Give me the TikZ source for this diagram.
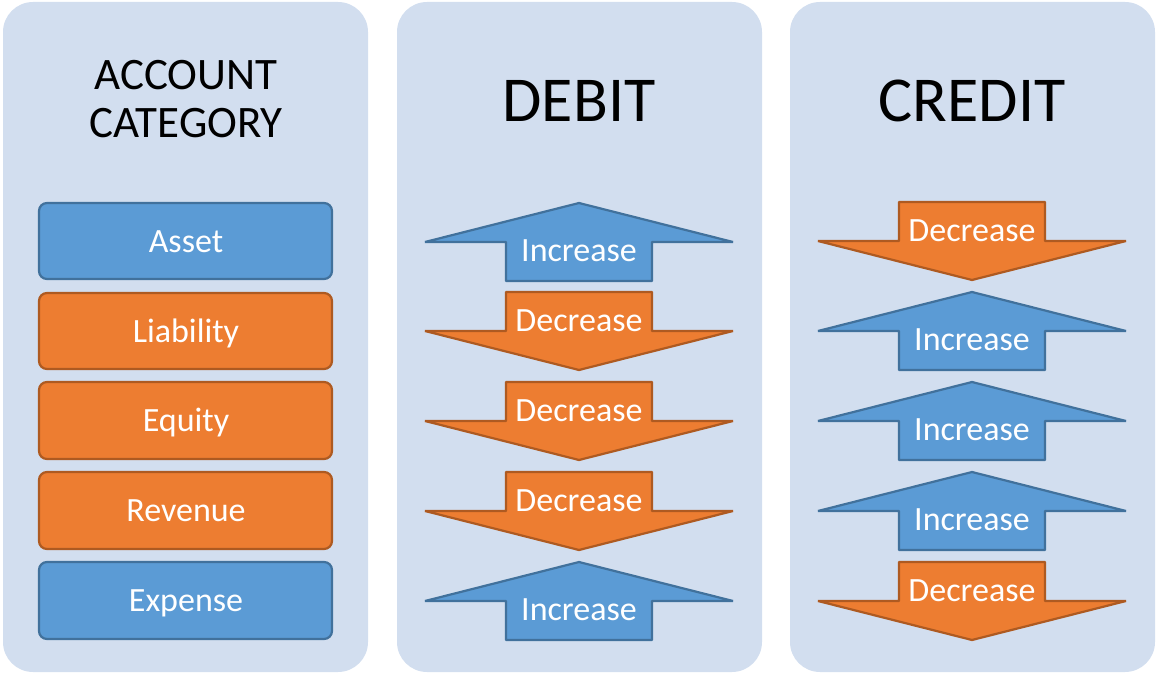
\documentclass[tikz,border=0pt]{standalone}
\usepackage{fontspec}
\setmainfont{Carlito}
\definecolor{panel}{RGB}{210,222,239}
\definecolor{bfill}{RGB}{91,155,213}
\definecolor{bdraw}{RGB}{65,113,156}
\definecolor{ofill}{RGB}{237,125,49}
\definecolor{odraw}{RGB}{174,90,33}
\tikzset{
  panelbox/.style={fill=panel, draw=none, rounded corners=30pt},
  bluebox/.style={fill=bfill, draw=bdraw, line width=2.2pt, rounded corners=8pt},
  orangebox/.style={fill=ofill, draw=odraw, line width=2.2pt, rounded corners=8pt},
  blueshape/.style={fill=bfill, draw=bdraw, line width=2.2pt, line join=bevel},
  orangeshape/.style={fill=ofill, draw=odraw, line width=2.2pt, line join=bevel},
  lbl/.style={text=white, anchor=base, inner sep=0pt, font=\fontsize{34}{38}\selectfont},
  title/.style={text=black, anchor=base, inner sep=0pt, align=center},
}
\newcommand{\myup}[4]{%
  \draw[blueshape] (#1,#2) -- ++(154,39) -- ++(-81,0) -- ++(0,39) -- ++(-146,0) -- ++(0,-39) -- ++(-81,0) -- cycle;
  \node[lbl] (#3) at (#1,#2+58) {#4};}
\newcommand{\mydown}[4]{%
  \draw[orangeshape] (#1-73,#2) -- ++(146,0) -- ++(0,39) -- ++(81,0) -- ++(-154,39) -- ++(-154,-39) -- ++(81,0) -- cycle;
  \node[lbl] (#3) at (#1,#2+39) {#4};}
\begin{document}
\begin{tikzpicture}[x=1pt,y=-1pt]
\useasboundingbox (0,0) rectangle (1157,674);
% panels
\fill[panelbox] (3,2) rectangle (368,672);
\fill[panelbox] (397,2) rectangle (762,672);
\fill[panelbox] (790,2) rectangle (1155,672);
% titles
\node[title, font=\fontsize{45}{48}\selectfont] (t1a) at (186,90) {ACCOUNT};
\node[title, font=\fontsize{45}{48}\selectfont] (t1b) at (186,138) {CATEGORY};
\node[title, font=\fontsize{64}{70}\selectfont] (t2) at (579,122) {DEBIT};
\node[title, font=\fontsize{64}{70}\selectfont] (t3) at (972,122) {CREDIT};
% category boxes
\draw[bluebox] (39,203) rectangle (332,279);
\node[lbl] (asset) at (186,252) {Asset};
\draw[orangebox] (39,293) rectangle (332,369);
\node[lbl] (liab) at (186,342) {Liability};
\draw[orangebox] (39,382) rectangle (332,459);
\node[lbl] (equity) at (186,431) {Equity};
\draw[orangebox] (39,472) rectangle (332,549);
\node[lbl] (rev) at (186,521) {Revenue};
\draw[bluebox] (39,562) rectangle (332,639);
\node[lbl] (exp) at (186,611) {Expense};
% debit arrows
\myup{579}{203}{d1}{Increase}
\mydown{579}{292}{d2}{Decrease}
\mydown{579}{382}{d3}{Decrease}
\mydown{579}{472}{d4}{Decrease}
\myup{579}{562}{d5}{Increase}
% credit arrows
\mydown{972}{202}{c1}{Decrease}
\myup{972}{292}{c2}{Increase}
\myup{972}{382}{c3}{Increase}
\myup{972}{472}{c4}{Increase}
\mydown{972}{562}{c5}{Decrease}
\end{tikzpicture}
\end{document}
